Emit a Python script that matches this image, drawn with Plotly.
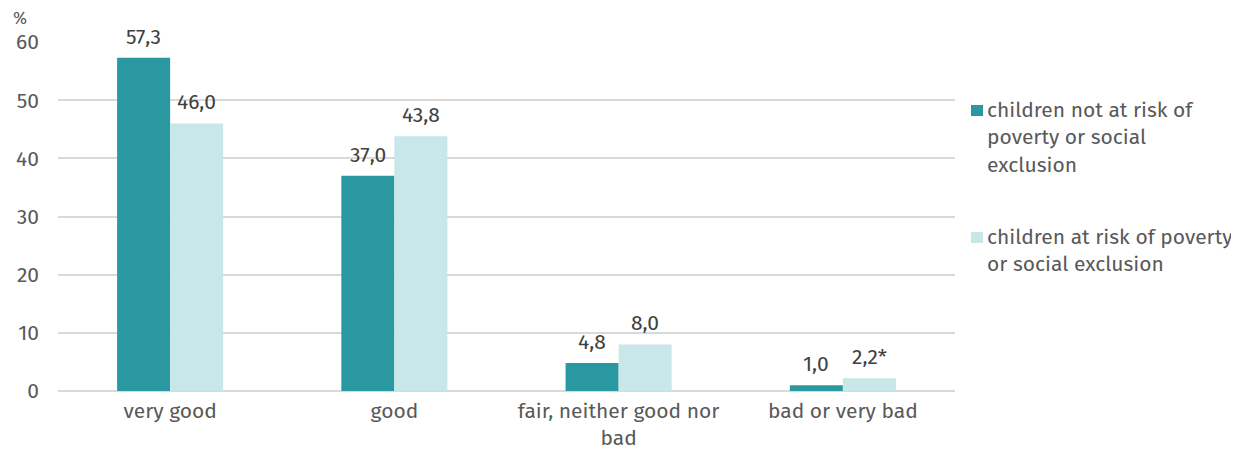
import plotly.graph_objects as go

categories = ["very good", "good", "fair, neither good nor<br>bad", "bad or very bad"]
not_at_risk = [57.3, 37.0, 4.8, 1.0]
at_risk = [46.0, 43.8, 8.0, 2.2]
at_risk_flags = ["", "", "", "*"]
series_names = ["children not at risk of<br>poverty or social<br>exclusion",
                "children at risk of poverty<br>or social exclusion"]
y_ticks = [0, 10, 20, 30, 40, 50, 60]
colors = ["#2a98a0", "#c8e7e9"]

FONT = "Fira Sans, Open Sans, Noto Sans, sans-serif"
FS = 21
BARGAP = 0.527


def fmt(v):
    return f"{v:.1f}".replace(".", ",")


fig = go.Figure()
fig.add_trace(go.Bar(x=categories, y=not_at_risk, name=series_names[0],
                     marker=dict(color=colors[0], line=dict(width=0)), showlegend=False))
fig.add_trace(go.Bar(x=categories, y=at_risk, name=series_names[1],
                     marker=dict(color=colors[1], line=dict(width=0)), showlegend=False))

annotations = []
half = (1 - BARGAP) / 4
for i, (a, b, f) in enumerate(zip(not_at_risk, at_risk, at_risk_flags)):
    for off, val, suffix in ((-half, a, ""), (half, b, f)):
        annotations.append(dict(x=i + off, y=val, xref="x", yref="y", text=fmt(val) + suffix,
                                showarrow=False, yanchor="bottom", xanchor="center", yshift=6,
                                font=dict(size=FS, color="#404040", family=FONT)))

# axis unit
annotations.append(dict(text="%", x=0, xref="paper", xanchor="left", xshift=-46,
                        y=1, yref="paper", yanchor="bottom", yshift=12, showarrow=False,
                        borderpad=0,
                        font=dict(size=17, color="#595959", family=FONT)))

# legend drawn manually to match the reference spacing
shapes = []
leg_items = [(series_names[0], 105), (series_names[1], 232)]
PL, PR, PT, PB = 58, 955, 42, 391


def px_x(px):
    return (px - PL) / (PR - PL)


def px_y(py):
    return (PB - py) / (PB - PT)


for (name, top), col in zip(leg_items, colors):
    shapes.append(dict(type="rect", xref="paper", yref="paper",
                       x0=px_x(971), x1=px_x(983), y0=px_y(top + 11), y1=px_y(top),
                       fillcolor=col, line=dict(width=0)))
    annotations.append(dict(text=name, xref="paper", yref="paper", x=px_x(985), y=px_y(top - 10),
                            xanchor="left", yanchor="top", align="left", showarrow=False,
                            font=dict(size=FS, color="#595959", family=FONT)))

fig.update_layout(
    width=1231, height=444,
    margin=dict(l=50, r=284, t=34, b=61, autoexpand=False),
    paper_bgcolor="white", plot_bgcolor="white",
    barmode="group", bargap=BARGAP, bargroupgap=0,
    font=dict(family=FONT, size=FS, color="#595959"),
    xaxis=dict(showgrid=False, showline=False, ticks="", ticklabelstandoff=5,
               tickfont=dict(size=FS, color="#595959")),
    yaxis=dict(range=[0, 60], tickvals=y_ticks, showgrid=True, gridcolor="#d9d9d9", gridwidth=2,
               zeroline=True, zerolinecolor="#d9d9d9", zerolinewidth=2,
               ticks="", tickfont=dict(size=FS, color="#595959"), ticklabelstandoff=18),
    showlegend=False,
    annotations=annotations,
    shapes=shapes,
)
fig.write_html("out.html")
